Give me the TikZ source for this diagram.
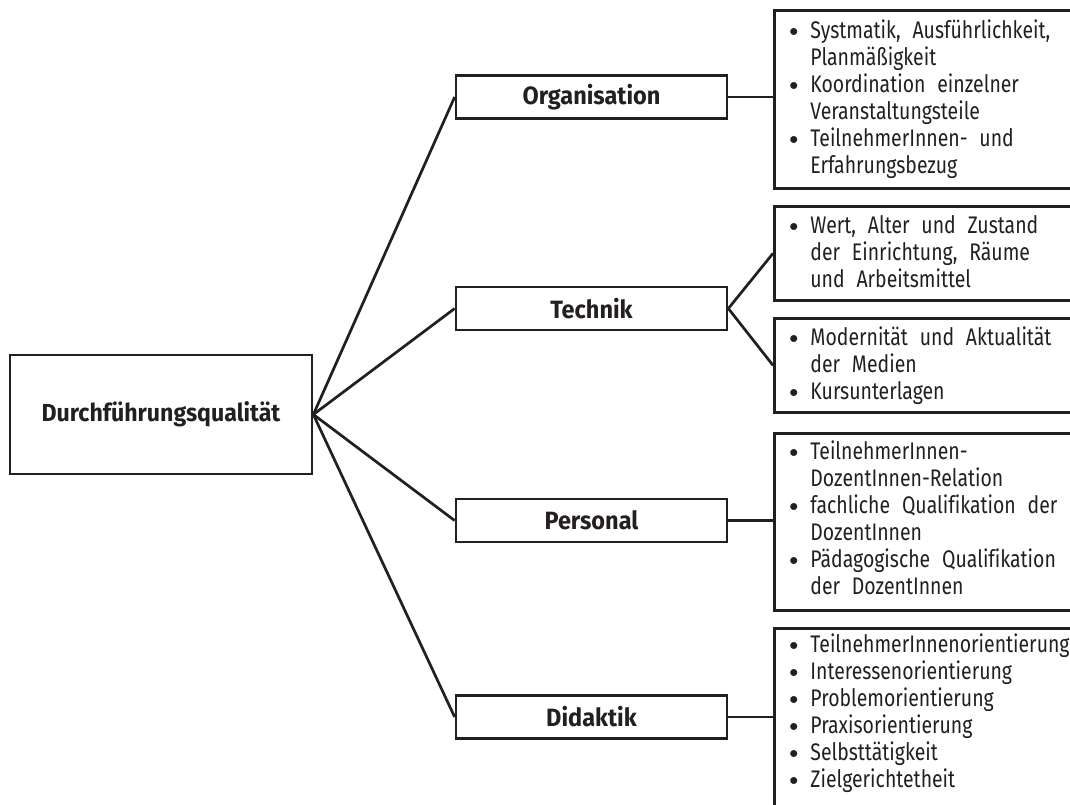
\documentclass[tikz,border=0pt]{standalone}
\usepackage{fontspec}
\setmainfont{Fira Sans}[FakeStretch=0.81, WordSpace=2.3, Ligatures=NoCommon]
\newfontfamily\labelfont{Fira Sans}[FakeStretch=0.94, Ligatures=NoCommon]
\definecolor{ink}{HTML}{231F20}
\newcommand{\bul}{\raisebox{0.8pt}{\scalebox{0.75}{$\bullet$}}}
\begin{document}
\begin{tikzpicture}[x=0.5pt,y=-0.5pt, color=ink,
  box/.style={draw=ink, line width=1.35pt, inner sep=0pt},
  lbl/.style={box, font=\labelfont\bfseries\fontsize{12.5}{14}\selectfont, minimum width=135.5pt, minimum height=21.5pt},
  listbox/.style={box, anchor=north west, minimum width=160pt},
  listtext/.style={anchor=north west, inner sep=0pt, font=\fontsize{12}{13.5}\selectfont, align=left},
  link/.style={draw=ink, line width=1.35pt}
]
\useasboundingbox (0,0) rectangle (1070,804);
\clip (0,0) rectangle (1070,804);

% main box
\node[box, minimum width=151pt, minimum height=59.5pt, font=\labelfont\bfseries\fontsize{12.3}{14}\selectfont] (dq) at (161,414.5) {Durchführungsqualität};

% middle boxes
\node[lbl] (org)  at (591.5,97)    {Organisation};
\node[lbl] (tech) at (591.5,308.5) {Technik};
\node[lbl] (pers) at (591.5,520.5) {Personal};
\node[lbl] (dida) at (591.5,717)   {Didaktik};

% right boxes
\node[listbox, minimum height=89pt]  (r1) at (773,9)   {};
\node[listbox, minimum height=47pt]  (r2) at (773,205) {};
\node[listbox, minimum height=47pt]  (r3) at (773,317) {};
\node[listbox, minimum height=88.5pt](r4) at (773,432) {};
\node[listbox, minimum height=100pt] (r5) at (773,627) {};

\node[listtext] (t1) at (789,19) {\begin{tabular}{@{}p{10.5pt}@{}l@{}}
\bul & Systmatik, Ausführlichkeit,\\
 & Planmäßigkeit\\
\bul & Koordination einzelner\\
 & Veranstaltungsteile\\
\bul & TeilnehmerInnen- und\\
 & Erfahrungsbezug
\end{tabular}};

\node[listtext] (t2) at (789,214) {\begin{tabular}{@{}p{10.5pt}@{}l@{}}
\bul & Wert, Alter und Zustand\\
 & der Einrichtung, Räume\\
 & und Arbeitsmittel
\end{tabular}};

\node[listtext] (t3) at (789,326) {\begin{tabular}{@{}p{10.5pt}@{}l@{}}
\bul & Modernität und Aktualität\\
 & der Medien\\
\bul & Kursunterlagen
\end{tabular}};

\node[listtext] (t4) at (789,440) {\begin{tabular}{@{}p{10.5pt}@{}l@{}}
\bul & TeilnehmerInnen-\\
 & DozentInnen-Relation\\
\bul & fachliche Qualifikation der\\
 & DozentInnen\\
\bul & Pädagogische Qualifikation\\
 & der DozentInnen
\end{tabular}};

\node[listtext] (t5) at (789,633) {\begin{tabular}{@{}p{10.5pt}@{}l@{}}
\bul & TeilnehmerInnenorientierung\\
\bul & Interessenorientierung\\
\bul & Problemorientierung\\
\bul & Praxisorientierung\\
\bul & Selbsttätigkeit\\
\bul & Zielgerichtetheit
\end{tabular}};

% connectors
\draw[link] (dq.east) -- (org.west);
\draw[link] (dq.east) -- (tech.west);
\draw[link] (dq.east) -- (pers.west);
\draw[link] (dq.east) -- (dida.west);
\draw[link] (org.east) -- (org.east -| r1.west);
\draw[link] (tech.east) -- (r2.west);
\draw[link] (tech.east) -- (r3.west);
\draw[link] (pers.east) -- (pers.east -| r4.west);
\draw[link] (dida.east) -- (dida.east -| r5.west);
\end{tikzpicture}
\end{document}
